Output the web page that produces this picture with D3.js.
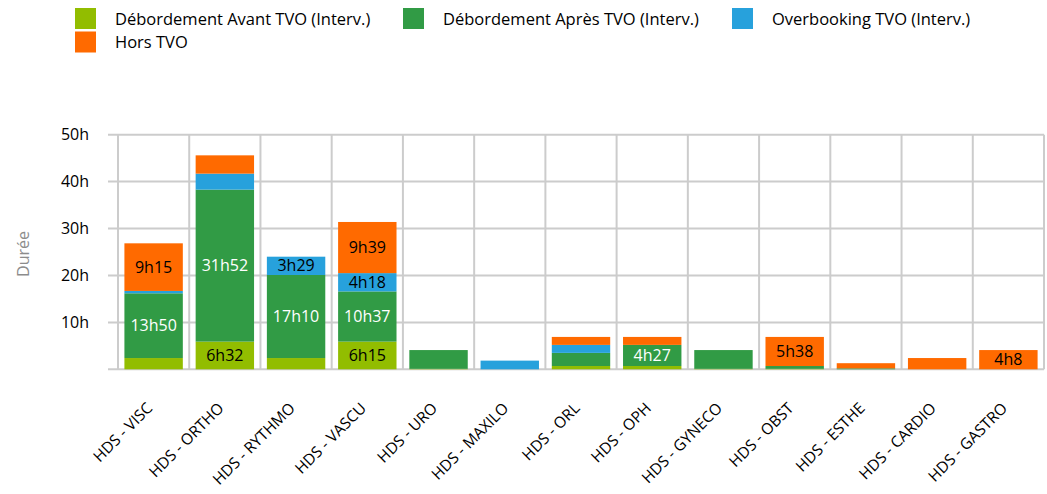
<!DOCTYPE html>
<html>
  <head>
    <meta charset="utf-8">
    <title></title>
    <script src="https://d3js.org/d3.v7.min.js"></script>
    <style type="text/css">
      body {
        margin: 0;
        background: #ffffff;
        font-family: 'Open Sans', sans-serif;
      }
      .grid line, .grid path {
        stroke: #cccccc;
        stroke-width: 2px;
      }
      .label {
        font-size: 16px;
      }
    </style>
  </head>
  <body>
    <div class="chart"></div>
    <script type="text/javascript">
      // services (x axis)
      var categories = ['HDS - VISC', 'HDS - ORTHO', 'HDS - RYTHMO', 'HDS - VASCU', 'HDS - URO', 'HDS - MAXILO',
                        'HDS - ORL', 'HDS - OPH', 'HDS - GYNECO', 'HDS - OBST', 'HDS - ESTHE', 'HDS - CARDIO', 'HDS - GASTRO'];

      var seriesNames = ['Débordement Avant TVO (Interv.)', 'Débordement Après TVO (Interv.)', 'Overbooking TVO (Interv.)', 'Hors TVO'];
      var seriesColors = ['#92bd00', '#319b45', '#27a1dc', '#ff6a00'];

      // durations in hours
      var avantTVO    = [2.4, 5.9, 2.4, 5.9, 0.1, 0, 0.7, 0.7, 0.1, 0.1, 0, 0, 0];
      var apresTVO    = [13.8, 32.4, 17.7, 10.7, 4.0, 0, 2.8, 4.5, 4.0, 0.6, 0.2, 0, 0];
      var overbooking = [0.5, 3.4, 3.9, 3.9, 0, 1.85, 1.7, 0, 0, 0, 0, 0, 0];
      var horsTVO     = [10.15, 3.9, 0, 10.9, 0, 0, 1.7, 1.7, 0, 6.2, 1.1, 2.4, 4.1];

      // data labels shown on the segments
      var avantLabels       = ['', '6h32', '', '6h15', '', '', '', '', '', '', '', '', ''];
      var apresLabels       = ['13h50', '31h52', '17h10', '10h37', '', '', '', '4h27', '', '', '', '', ''];
      var overbookingLabels = ['', '', '3h29', '4h18', '', '', '', '', '', '', '', '', ''];
      var horsLabels        = ['9h15', '', '', '9h39', '', '', '', '', '', '5h38', '', '', '4h8'];

      var yTicks = [10, 20, 30, 40, 50];

      var width = 1047;
      var height = 494;
      var margin = {top: 134.7, right: 3, bottom: 124.7, left: 118};
      var innerW = width - margin.left - margin.right;
      var innerH = height - margin.top - margin.bottom;

      var rows = categories.map(function(c, i) {
        return {cat: c, s0: avantTVO[i], s1: apresTVO[i], s2: overbooking[i], s3: horsTVO[i]};
      });
      var labelSets = [avantLabels, apresLabels, overbookingLabels, horsLabels];
      var keys = ['s0', 's1', 's2', 's3'];
      var stacked = d3.stack().keys(keys)(rows);

      var svg = d3.select('.chart').append('svg')
        .attr('width', width)
        .attr('height', height);

      var x = d3.scaleBand().domain(categories).range([0, innerW]).paddingInner(0.18).paddingOuter(0.09);
      var y = d3.scaleLinear().domain([0, 50]).range([innerH, 0]);

      var g = svg.append('g').attr('transform', 'translate(' + margin.left + ',' + margin.top + ')');

      // horizontal grid
      g.append('g').attr('class', 'grid')
        .selectAll('line').data([0].concat(yTicks)).enter().append('line')
          .attr('x1', -10).attr('x2', innerW)
          .attr('y1', function(d){ return y(d); }).attr('y2', function(d){ return y(d); });

      // vertical grid at category boundaries
      var step = x.step();
      g.append('g').attr('class', 'grid')
        .selectAll('line').data(d3.range(categories.length + 1)).enter().append('line')
          .attr('x1', function(d){ return d * step; }).attr('x2', function(d){ return d * step; })
          .attr('y1', 0).attr('y2', innerH);

      // y tick labels
      g.append('g').selectAll('text').data(yTicks).enter().append('text')
        .attr('x', -29).attr('y', function(d){ return y(d); })
        .attr('dy', '0.35em')
        .attr('text-anchor', 'end')
        .style('font-size', '16px')
        .attr('fill', '#000')
        .text(function(d){ return d + 'h'; });

      // y axis title
      svg.append('text')
        .attr('transform', 'translate(23,254) rotate(-90)')
        .attr('text-anchor', 'middle')
        .attr('dy', '0.35em')
        .style('font-size', '16px')
        .attr('fill', '#8c8c8c')
        .text('Durée');

      // bars
      var layers = g.selectAll('.layer').data(stacked).enter().append('g')
        .attr('class', 'layer')
        .attr('fill', function(d, i){ return seriesColors[i]; });

      layers.selectAll('rect').data(function(d){ return d; }).enter().append('rect')
        .attr('x', function(d){ return x(d.data.cat); })
        .attr('width', x.bandwidth())
        .attr('y', function(d){ return y(d[1]); })
        .attr('height', function(d){ return y(d[0]) - y(d[1]); });

      // segment labels
      stacked.forEach(function(layer, i) {
        g.append('g').selectAll('text').data(layer).enter().append('text')
          .attr('class', 'label')
          .attr('x', function(d){ return x(d.data.cat) + x.bandwidth() / 2; })
          .attr('y', function(d){ return (y(d[0]) + y(d[1])) / 2; })
          .attr('dy', '0.35em')
          .attr('text-anchor', 'middle')
          .attr('fill', i === 1 ? '#ffffff' : '#000000')
          .text(function(d, j){ return labelSets[i][j]; });
      });

      // x labels
      g.append('g').selectAll('text').data(categories).enter().append('text')
        .attr('transform', function(d){
          return 'translate(' + (x(d) + x.bandwidth() / 2 - 4) + ',' + (innerH + 36) + ') rotate(-45)';
        })
        .attr('text-anchor', 'end')
        .attr('dy', '0.35em')
        .style('font-size', '15.5px')
        .attr('fill', '#000')
        .text(function(d){ return d; });

      // legend
      var legendPos = [[75, 8], [403, 8], [732, 8], [75, 31.5]];
      var legend = svg.append('g').selectAll('g').data(seriesNames).enter().append('g')
        .attr('transform', function(d, i){ return 'translate(' + legendPos[i][0] + ',' + legendPos[i][1] + ')'; });
      legend.append('rect')
        .attr('width', 21).attr('height', 21)
        .attr('fill', function(d, i){ return seriesColors[i]; });
      legend.append('text')
        .attr('x', 40).attr('y', 11)
        .attr('dy', '0.35em')
        .style('font-size', '16.5px')
        .attr('fill', '#000')
        .text(function(d){ return d; });
    </script>
  </body>
</html>
